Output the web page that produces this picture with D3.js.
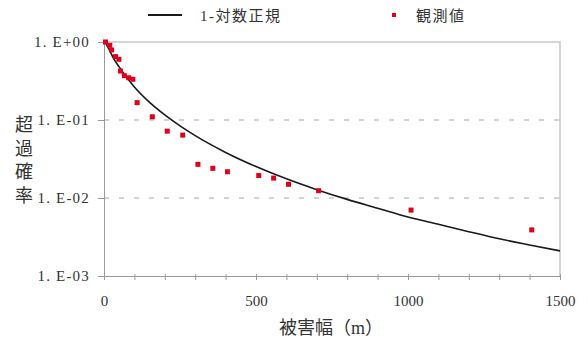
<!DOCTYPE html>
<html><head><meta charset="utf-8">
<script src="https://cdn.jsdelivr.net/npm/d3@7"></script>
<style>
html,body{margin:0;padding:0;background:#fff;}
text{font-family:"Liberation Serif","Noto Sans CJK JP",serif;fill:#333;}
</style></head>
<body><svg id="c" width="588" height="340"></svg>
<script>
// Observed values (観測値): damage width (m) and exceedance probability
const obsX = [5, 19, 25, 38, 49, 54, 67, 81, 95, 109, 159, 208, 259, 309, 358, 406, 509, 558, 607, 706, 1010, 1407];
const obsP = [1.0, 0.907, 0.79, 0.65, 0.60, 0.425, 0.37, 0.348, 0.333, 0.167, 0.110, 0.072, 0.064, 0.027, 0.024, 0.0217, 0.0194, 0.018, 0.0150, 0.0124, 0.0070, 0.0039];
// Fitted curve (1-対数正規)
const fitX = [0, 5, 10, 20, 30, 50, 75, 100, 150, 200, 250, 300, 400, 500, 600, 700, 800, 900, 1000, 1100, 1200, 1300, 1400, 1500];
const fitP = [1.0, 0.97, 0.90, 0.76, 0.63, 0.48, 0.35, 0.265, 0.168, 0.116, 0.084, 0.063, 0.0384, 0.0253, 0.0176, 0.0128, 0.0096, 0.0074, 0.0057, 0.0046, 0.0037, 0.0030, 0.0025, 0.0021];
const yTicks = [1, 0.1, 0.01, 0.001];
const yTickLabels = ["1. E+00", "1. E-01", "1. E-02", "1. E-03"];
const xTicks = [0, 500, 1000, 1500];
const legendLabels = ["1-対数正規", "観測値"];

const svg = d3.select("#c");
const L = 104, R = 560, T = 42, B = 276;
const x = d3.scaleLinear().domain([0, 1500]).range([L, R]);
const y = d3.scaleLog().domain([0.001, 1]).range([B, T]);

// plot border (top and right)
svg.append("path").attr("d", `M${L},${T}H${R}V${B}`).attr("fill", "none").attr("stroke", "#c8c8c8").attr("stroke-width", 1.5);

// dashed gridlines
svg.append("g").selectAll("line").data([0.1, 0.01]).join("line")
  .attr("x1", L).attr("x2", R).attr("y1", d => y(d)).attr("y2", d => y(d))
  .attr("stroke", "#c4c4c4").attr("stroke-width", 1.5).attr("stroke-dasharray", "5,10");

// y axis
const ya = svg.append("g").attr("transform", `translate(${L},0)`)
  .call(d3.axisLeft(y).tickValues(yTicks).tickSize(6).tickFormat((d, i) => yTickLabels[i]));
ya.select(".domain").attr("stroke", "#999");
ya.selectAll(".tick line").attr("stroke", "#999");
ya.selectAll(".tick text").attr("x", -14).attr("font-size", 15).attr("fill", "#444")
  .attr("letter-spacing", 1.2)
  .style("font-family", '"Liberation Serif",serif');

// x axis
const xa = svg.append("g").attr("transform", `translate(0,${B})`)
  .call(d3.axisBottom(x).tickValues(d3.range(0, 1501, 100)).tickSize(4)
    .tickFormat(d => xTicks.includes(d) ? d : ""));
xa.select(".domain").attr("stroke", "#999");
xa.selectAll(".tick line").attr("stroke", "#999").attr("y1", -2);
xa.selectAll(".tick text").attr("y", 19).attr("font-size", 15).attr("fill", "#444")
  .style("font-family", '"Liberation Serif",serif');

// fitted curve
const line = d3.line().x((d, i) => x(fitX[i])).y((d, i) => y(fitP[i])).curve(d3.curveMonotoneX);
svg.append("path").datum(fitP).attr("d", line).attr("fill", "none").attr("stroke", "#1a1a1a").attr("stroke-width", 1.6);

// observed points
const s = 5;
svg.append("g").selectAll("rect").data(obsP).join("rect")
  .attr("x", (d, i) => x(obsX[i]) - s / 2).attr("y", d => y(d) - s / 2)
  .attr("width", s).attr("height", s).attr("fill", "#e0001b");

// axis titles
svg.append("text").attr("x", 331).attr("y", 334).attr("text-anchor", "middle")
  .attr("font-size", 18).text("被害幅（m）");
svg.append("g").selectAll("text").data(["超", "過", "確", "率"]).join("text")
  .attr("x", 24).attr("y", (d, i) => 131 + i * 23.5).attr("text-anchor", "middle")
  .attr("font-size", 18).text(d => d);

// legend
svg.append("line").attr("x1", 148).attr("x2", 182).attr("y1", 15).attr("y2", 15)
  .attr("stroke", "#1a1a1a").attr("stroke-width", 2);
svg.append("text").attr("x", 200).attr("y", 20.5).attr("font-size", 15).attr("letter-spacing", 1.5).text(legendLabels[0]);
svg.append("rect").attr("x", 392).attr("y", 13).attr("width", 4).attr("height", 4).attr("fill", "#e0001b");
svg.append("text").attr("x", 416).attr("y", 20.5).attr("font-size", 15).attr("letter-spacing", 1.5).text(legendLabels[1]);
</script></body></html>
